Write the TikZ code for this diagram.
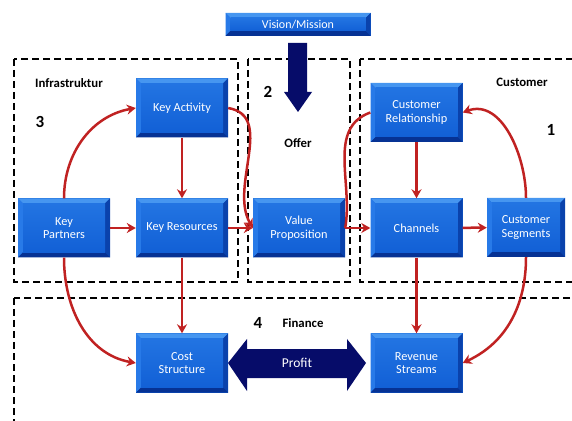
\documentclass[tikz,border=0pt]{standalone}
\usepackage{fontspec}
\setmainfont{Carlito}
\usetikzlibrary{arrows.meta}

\definecolor{boxface}{RGB}{18,96,214}
\definecolor{boxfacetop}{RGB}{34,116,226}
\definecolor{bevellight}{RGB}{70,150,240}
\definecolor{bevelleft}{RGB}{40,122,232}
\definecolor{bevelright}{RGB}{10,66,172}
\definecolor{beveldark}{RGB}{6,50,148}
\definecolor{navyarrow}{RGB}{6,12,105}
\definecolor{linkred}{RGB}{192,34,34}

\tikzset{
  block/.style={fill=boxface, text=white, align=center,
    minimum width=92pt, minimum height=59pt,
    font=\fontsize{12.3}{13.5}\selectfont,
    path picture={
      \def\bv{5pt}
      \coordinate (bnw) at (path picture bounding box.north west);
      \coordinate (bne) at (path picture bounding box.north east);
      \coordinate (bsw) at (path picture bounding box.south west);
      \coordinate (bse) at (path picture bounding box.south east);
      \fill[bevellight] (bnw) -- (bne) -- ([shift={(-\bv,-\bv)}]bne) -- ([shift={(\bv,-\bv)}]bnw) -- cycle;
      \fill[bevelleft] (bnw) -- (bsw) -- ([shift={(\bv,\bv)}]bsw) -- ([shift={(\bv,-\bv)}]bnw) -- cycle;
      \fill[bevelright] (bne) -- (bse) -- ([shift={(-\bv,\bv)}]bse) -- ([shift={(-\bv,-\bv)}]bne) -- cycle;
      \fill[beveldark] (bsw) -- (bse) -- ([shift={(-\bv,\bv)}]bse) -- ([shift={(\bv,\bv)}]bsw) -- cycle;
      \shade[top color=boxfacetop, bottom color=boxface] ([shift={(\bv,-\bv)}]bnw) rectangle ([shift={(-\bv,\bv)}]bse);
    }},
  link/.style={draw=linkred, line width=2.5pt, -{Stealth[length=9pt,width=10pt]}},
  zone/.style={draw=black, line width=2.6pt, dash pattern=on 7pt off 4pt},
  tag/.style={font=\bfseries\fontsize{12.8}{14}\selectfont},
  num/.style={font=\bfseries\fontsize{17}{18}\selectfont},
}

\begin{document}
\begin{tikzpicture}[x=1pt, y=1pt]
  \useasboundingbox (0,0) rectangle (572,420);

  % Dashed zones (right and bottom sides run off the page)
  \begin{scope}
    \clip (0,0) rectangle (572,420);
    \draw[zone] (14,361) rectangle (238,138);
    \draw[zone] (248,361) rectangle (350,138);
    \draw[zone] (360,361) rectangle (590,138);
    \draw[zone] (14,122) rectangle (590,-20);
  \end{scope}

  % Zone labels
  \node[tag] (infra) at (69,337) {Infrastruktur};
  \node[num] (n3) at (40,298) {3};
  \node[num] (n2) at (268,328) {2};
  \node[tag] (offer) at (298,277) {Offer};
  \node[tag] (cust) at (522,338) {Customer};
  \node[num] (n1) at (551,290) {1};
  \node[num] (n4) at (258,97) {4};
  \node[tag] (fin) at (303,97) {Finance};

  % Vision and its arrow
  \node[block, minimum width=145pt, minimum height=23pt, font=\fontsize{12}{13}\selectfont] (vision) at (298,395.5) {Vision/Mission};
  \fill[navyarrow] (288,377) -- (307,377) -- (307,328) -- (312,328) -- (298,308)
    -- (284,328) -- (288,328) -- cycle;

  % Blocks
  \node[block] (ka) at (182,312) {Key Activity};
  \node[block] (kp) at (64,192) {Key\\Partners};
  \node[block] (kr) at (182,192) {Key Resources};
  \node[block] (vp) at (299,192) {Value\\Proposition};
  \node[block] (cr) at (416.5,307.5) {Customer\\Relationship};
  \node[block] (ch) at (416.5,192) {Channels};
  \node[block, minimum width=78pt] (cs) at (526,192.5) {Customer\\Segments};
  \node[block] (cost) at (182,57) {Cost\\Structure};
  \node[block] (rev) at (416.5,57) {Revenue\\Streams};

  % Profit double arrow
  \fill[navyarrow] (228,57) -- (247,81) -- (247,71) -- (347,71) -- (347,81) -- (366,57)
    -- (347,29) -- (347,42) -- (247,42) -- (247,29) -- cycle;
  \node[text=white, font=\fontsize{13.5}{15}\selectfont] (profit) at (297,57) {Profit};

  % Straight links
  \draw[link] (ka) -- (kr);
  \draw[link] (kp) -- (kr);
  \draw[link] (kr) -- (vp);
  \draw[link] (vp) -- (ch);
  \draw[link] (cr) -- (ch);
  \draw[link] (ch) -- (cs);
  \draw[link] (kr) -- (cost);
  \draw[link] (ch) -- (rev);

  % Curved links
  \draw[link] (kp.north) to[out=90, in=190] (ka.west);
  \draw[link] (kp.south) to[out=-90, in=170] (cost.west);
  \draw[link] (ka.east) to[out=-10, in=120] (vp.west);
  \draw[link, -] (vp.east) to[out=80, in=-160] (cr.west);
  \draw[link] (cs.north) to[out=90, in=20] (cr.east);
  \draw[link] (cs.south) to[out=-90, in=25] (rev.east);

\end{tikzpicture}
\end{document}
